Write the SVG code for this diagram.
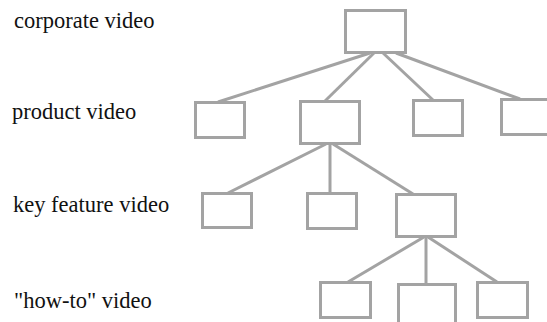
<svg xmlns="http://www.w3.org/2000/svg" width="547" height="322" viewBox="0 0 547 322">
<style>
.box{fill:#fff;stroke:#a3a3a3;stroke-width:3}
.ln{stroke:#a3a3a3;stroke-width:3;fill:none}
.lbl{font-family:"Liberation Serif","Times New Roman",serif;font-size:22.5px;fill:#111}
</style>
<rect width="547" height="322" fill="#fff"/>
<g id="labels">
<text class="lbl" x="14" y="28">corporate video</text>
<text class="lbl" x="12" y="119">product video</text>
<text class="lbl" x="13" y="212">key feature video</text>
<text class="lbl" x="14" y="308">"how-to" video</text>
</g>
<g id="connectors">
<line class="ln" x1="370" y1="53" x2="218" y2="102"/>
<line class="ln" x1="374" y1="53" x2="325" y2="101"/>
<line class="ln" x1="383" y1="53" x2="433" y2="100"/>
<line class="ln" x1="396" y1="53" x2="520" y2="99"/>
<line class="ln" x1="326" y1="144" x2="228" y2="193"/>
<line class="ln" x1="330" y1="144" x2="330" y2="193"/>
<line class="ln" x1="333" y1="144" x2="413" y2="194"/>
<line class="ln" x1="424" y1="237" x2="348" y2="282"/>
<line class="ln" x1="426" y1="237" x2="426" y2="284"/>
<line class="ln" x1="428" y1="237" x2="497" y2="282"/>
</g>
<g id="corporate"><rect class="box" x="345.5" y="10.5" width="60" height="42"/></g>
<g id="product1"><rect class="box" x="195.5" y="102.5" width="49" height="35"/></g>
<g id="product2"><rect class="box" x="300.5" y="101.5" width="59" height="42"/></g>
<g id="product3"><rect class="box" x="413.5" y="100.5" width="49" height="35"/></g>
<g id="product4"><rect class="box" x="501.5" y="99.5" width="52" height="35"/></g>
<g id="feature1"><rect class="box" x="202.5" y="193.5" width="49" height="34"/></g>
<g id="feature2"><rect class="box" x="307.5" y="193.5" width="49" height="35"/></g>
<g id="feature3"><rect class="box" x="396.5" y="194.5" width="59" height="42"/></g>
<g id="howto1"><rect class="box" x="320.5" y="282.5" width="50" height="35"/></g>
<g id="howto2"><rect class="box" x="398.5" y="284.5" width="57" height="42"/></g>
<g id="howto3"><rect class="box" x="477.5" y="282.5" width="50" height="35"/></g>
</svg>
